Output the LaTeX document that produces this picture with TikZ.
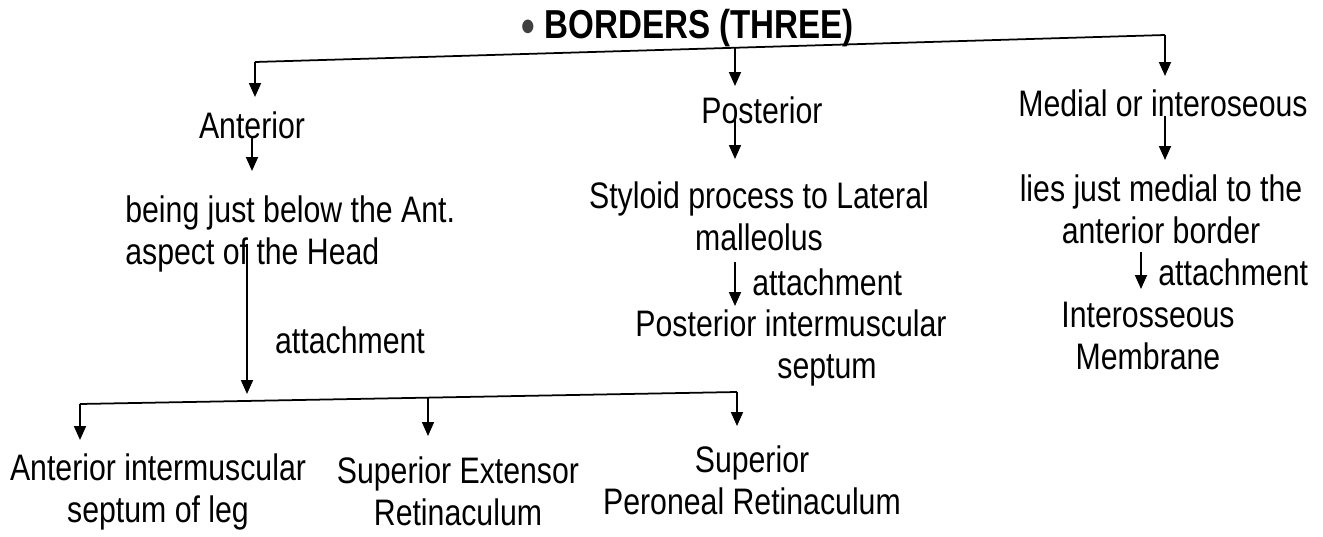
\documentclass[tikz,border=0pt]{standalone}
\usepackage{fontspec}
\setmainfont[FakeStretch=0.82]{Liberation Sans}
\usetikzlibrary{arrows.meta}
\begin{document}
\begin{tikzpicture}[x=0.02cm,y=-0.02cm,
  txt/.style={inner sep=0pt, font=\fontsize{21}{24}\selectfont, align=center},
  ttl/.style={inner sep=0pt, font=\fontsize{23}{26}\selectfont\bfseries},
  arr/.style={-{Triangle[length=0.28cm,width=0.24cm]}, line width=1pt},
  ln/.style={line width=1pt}]
\useasboundingbox (0,0) rectangle (1323,537);
\fill[white] (0,0) rectangle (1323,537);

% texts
\node[ttl] (title) at (688,28) {\raisebox{-2.5pt}{\fontsize{27}{27}\selectfont\color{black!75}•} BORDERS (THREE)};
\node[txt] (ant) at (252,125) {Anterior};
\node[txt] (post) at (762,110) {Posterior};
\node[txt] (med) at (1163,103) {Medial or interoseous};
\node[txt, anchor=west, align=left] (antd) at (125,234) {being just below the Ant.\\aspect of the Head};
\node[txt] (postd) at (759,216) {Styloid process to Lateral\\malleolus};
\node[txt] (medd) at (1161,209) {lies just medial to the\\anterior border};
\node[txt] (att1) at (350,340) {attachment};
\node[txt, anchor=west] (att2) at (752,282) {attachment};
\node[txt, anchor=west] (att3) at (1158,272) {attachment};
\node[txt] (postm) at (791,348) {Posterior intermuscular\\\hspace*{1.44cm}septum};
\node[txt] (medm) at (1148,336) {Interosseous\\Membrane};
\node[txt] (b1) at (158,492) {Anterior intermuscular\\septum of leg};
\node[txt] (b2) at (458,491) {Superior Extensor\\Retinaculum};
\node[txt] (b3) at (752,480) {Superior\\Peroneal Retinaculum};

% top branching
\coordinate (tL) at (255,62);
\coordinate (tR) at (1165,35);
\coordinate (tM) at (735,48);
\coordinate (eA) at (255,97);
\coordinate (eP) at (735,86);
\coordinate (eM) at (1165,76);
\draw[ln] (tL) -- (tR);
\draw[arr] (tL) -- (eA);
\draw[arr] (tM) -- (eP);
\draw[arr] (tR) -- (eM);

% anterior column
\coordinate (a1s) at (252,138);
\coordinate (a1e) at (252,171);
\draw[arr] (a1s) -- (a1e);
\coordinate (a2s) at (247,244);
\coordinate (a2e) at (247,394);
\draw[arr] (a2s) -- (a2e);

% bottom branching
\coordinate (bL) at (80,404);
\coordinate (bM) at (428,398);
\coordinate (bR) at (737,392);
\draw[ln] (bL) -- (bR);
\draw[arr] (bL) -- (80,440);
\draw[arr] (bM) -- (428,436);
\draw[arr] (bR) -- (737,426);

% posterior column
\coordinate (p1s) at (735,118);
\coordinate (p1e) at (735,159);
\draw[arr] (p1s) -- (p1e);
\coordinate (p2s) at (735,262);
\coordinate (p2e) at (735,306);
\draw[arr] (p2s) -- (p2e);

% medial column
\coordinate (m1s) at (1165,116);
\coordinate (m1e) at (1165,160);
\draw[arr] (m1s) -- (m1e);
\coordinate (m2s) at (1141,252);
\coordinate (m2e) at (1141,289);
\draw[arr] (m2s) -- (m2e);
\end{tikzpicture}
\end{document}
